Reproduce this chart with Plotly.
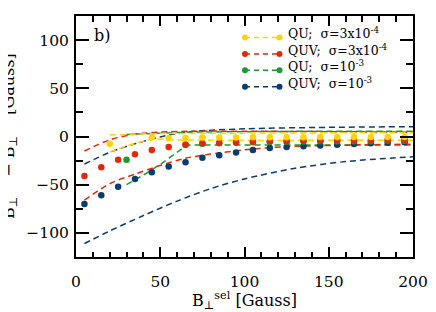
import plotly.graph_objects as go

# ---------------- data ----------------
x_dots = [5, 15, 25, 35, 45, 55, 65, 75, 85, 95, 105, 115, 125, 135, 145, 155, 165, 175, 185, 195]
quv_1e3_dots = [-70, -61, -52, -44, -37, -31, -26.8, -22, -19.5, -16.5, -14, -12, -11, -10, -9.3, -8.5, -7.8, -7.1, -6.6, -6]
quv_3e4_dots = [-41, -32, -24, -18.5, -14, -11, -8.5, -7, -6.5, -6, -5.5, -5, -5, -4.5, -4.5, -4, -4, -4, -3.5, -3.5]

qu_3e4_x = [20, 45, 55, 65, 75, 85, 95, 105, 115, 125, 135, 145, 155, 165, 175, 185, 195]
qu_3e4_dots = [-7.6, -1, -1.8, -1.5, -1, -1, -1, -0.8, -0.8, -0.7, -0.7, -0.6, -0.6, -0.5, -0.5, -0.5, -0.5]

qu_1e3_x = [30, 65, 75, 85, 95, 105, 115, 125, 135, 145, 155, 165, 175, 185, 195]
qu_1e3_dots = [-24, -8.5, -7.5, -7, -6.5, -6, -5.8, -5.5, -5.3, -5, -5, -4.8, -4.8, -4.5, -4.5]

# dashed envelopes
quv_1e3_up_x = [5, 20, 35, 50, 65, 100, 150, 200]
quv_1e3_up_y = [-28.5, -16.5, -7.5, -0.5, 4.5, 8, 9.5, 10.2]
quv_1e3_lo_x = [5, 20, 40, 60, 80, 100, 130, 160, 200]
quv_1e3_lo_y = [-111, -98, -82, -67, -54, -44, -33, -26, -21]

quv_3e4_up_x = [5, 20, 35, 50, 70, 100, 150, 200]
quv_3e4_up_y = [-15, -3.5, 2.5, 4.5, 5.5, 5.5, 5, 4.5]
quv_3e4_lo_x = [5, 20, 35, 50, 65, 85, 105, 125, 145, 175, 200]
quv_3e4_lo_y = [-66, -49, -39, -30, -22.5, -17, -13, -10.5, -9.5, -8.5, -8]

qu_1e3_up_x = [30, 50, 70, 100, 150, 200]
qu_1e3_up_y = [2, 3.5, 4.5, 5, 5.5, 5.5]
qu_1e3_lo_x = [30, 40, 50, 60, 66, 80, 120, 160, 200]
qu_1e3_lo_y = [-50, -40, -29, -16, -8.7, -8.7, -8.7, -8.7, -8.7]

qu_3e4_up_x = [20, 35, 50, 100, 150, 200]
qu_3e4_up_y = [1.5, 2.5, 3, 3.5, 3.8, 4]
qu_3e4_lo_x = [20, 30, 45, 60, 100, 150, 200]
qu_3e4_lo_y = [-16, -10, -3, -3.5, -4, -4, -4]

labels = ["QU;  σ=3x10<sup>-4</sup>", "QUV;  σ=3x10<sup>-4</sup>",
          "QU;  σ=10<sup>-3</sup>", "QUV;  σ=10<sup>-3</sup>"]

YELLOW = "#FFD400"
RED = "#DE2A0C"
GREEN = "#1A9B2D"
BLUE = "#0B3C6C"

FONT = "DejaVu Serif"

# ---------------- figure ----------------
# page has an 8px body margin, so the figure is drawn 8px in from the top-left
OFF = 8
W, H = 436 - OFF, 312 - OFF
PLOT_L, PLOT_R, PLOT_T, PLOT_B = 76, 413, 16, 257   # page pixels of the plot area
L, T = PLOT_L - OFF, PLOT_T - OFF
R, B = 436 - PLOT_R, 312 - PLOT_B
PW, PH = PLOT_R - PLOT_L, PLOT_B - PLOT_T

fig = go.Figure()

def add_env(xs, ys, color, name, shape="spline"):
    fig.add_trace(go.Scatter(x=xs, y=ys, mode="lines", name=name, showlegend=False,
                             line=dict(color=color, width=1.5, dash="6px,4px", shape=shape,
                                       smoothing=0.8 if shape == "spline" else None),
                             hoverinfo="skip"))

def add_dots(xs, ys, color, name):
    fig.add_trace(go.Scatter(x=xs, y=ys, mode="markers", name=name, showlegend=False,
                             marker=dict(color=color, size=6.5, line=dict(width=0))))

# blue (bottom), green, red, yellow (top)
add_env(quv_1e3_up_x, quv_1e3_up_y, BLUE, "QUV 1e-3 upper")
add_env(quv_1e3_lo_x, quv_1e3_lo_y, BLUE, "QUV 1e-3 lower")
add_env(qu_1e3_up_x, qu_1e3_up_y, GREEN, "QU 1e-3 upper")
add_env(qu_1e3_lo_x, qu_1e3_lo_y, GREEN, "QU 1e-3 lower", shape="linear")
add_env(quv_3e4_up_x, quv_3e4_up_y, RED, "QUV 3e-4 upper")
add_env(quv_3e4_lo_x, quv_3e4_lo_y, RED, "QUV 3e-4 lower")
add_env(qu_3e4_up_x, qu_3e4_up_y, YELLOW, "QU 3e-4 upper")
add_env(qu_3e4_lo_x, qu_3e4_lo_y, YELLOW, "QU 3e-4 lower")

add_dots(x_dots, quv_1e3_dots, BLUE, "QUV; σ=1e-3")
add_dots(qu_1e3_x, qu_1e3_dots, GREEN, "QU; σ=1e-3")
add_dots(x_dots, quv_3e4_dots, RED, "QUV; σ=3e-4")
add_dots(qu_3e4_x, qu_3e4_dots, YELLOW, "QU; σ=3e-4")

def px2x(px):
    return (px - PLOT_L) / PW

def py2y(py):
    return (PLOT_B - py) / PH

# custom legend: dot - dashes - dot
shapes = []
annotations = []
leg_colors = [YELLOW, RED, GREEN, BLUE]
leg_rows = [37.5, 54, 70.3, 86.7]
for lab, col, ry in zip(labels, leg_colors, leg_rows):
    shapes.append(dict(type="line", xref="paper", yref="paper",
                       x0=px2x(245), x1=px2x(279.5), y0=py2y(ry), y1=py2y(ry),
                       line=dict(color=col, width=1.5, dash="5px,4px")))
    for cx in (245, 279.5):
        shapes.append(dict(type="circle", xref="paper", yref="paper",
                           xsizemode="pixel", ysizemode="pixel",
                           xanchor=px2x(cx), yanchor=py2y(ry),
                           x0=-3, x1=3, y0=-3, y1=3,
                           fillcolor=col, line=dict(width=0)))
    annotations.append(dict(text=lab, xref="paper", yref="paper",
                            x=px2x(286), y=py2y(ry - 4), xanchor="left", yanchor="middle",
                            showarrow=False, font=dict(family=FONT, size=12.5, color="black")))

annotations.append(dict(text="b)", xref="paper", yref="paper", x=px2x(92), y=py2y(35),
                        xanchor="left", yanchor="middle", showarrow=False,
                        font=dict(family=FONT, size=16, color="black")))

annotations.append(dict(text="B<sub>⊥</sub><sup>inf</sup> − B<sub>⊥</sub><sup>sel</sup> [Gauss]",
                        xref="paper", yref="paper", x=px2x(8), y=py2y(136),
                        xanchor="center", yanchor="middle", textangle=-90, showarrow=False,
                        font=dict(family=FONT, size=16, color="black")))

axis_common = dict(showline=True, linewidth=2, linecolor="black", mirror="ticks",
                   ticks="inside", tickcolor="black", tickwidth=1.5,
                   showgrid=False, zeroline=False,
                   tickfont=dict(family=FONT, size=15.5, color="black"))

fig.update_layout(
    width=W, height=H,
    margin=dict(l=L, r=R, t=T, b=B, autoexpand=False),
    paper_bgcolor="white", plot_bgcolor="white",
    showlegend=False,
    shapes=shapes, annotations=annotations,
    xaxis=dict(range=[0, 200], tickmode="array", tickvals=[0, 50, 100, 150, 200], ticklen=10,
               ticklabelstandoff=9,
               minor=dict(ticks="inside", dtick=10, tick0=0, ticklen=5.5, tickcolor="black", tickwidth=1.5, showgrid=False),
               title=dict(text="B<sub>⊥</sub><sup>sel</sup> [Gauss]", font=dict(family=FONT, size=16, color="black"), standoff=6),
               **axis_common),
    yaxis=dict(range=[-125, 125], tickmode="array", tickvals=[-100, -50, 0, 50, 100], ticklen=13,
               ticktext=["−100", "−50", "0", "50", "100"], ticklabelstandoff=2,
               minor=dict(ticks="inside", dtick=25, tick0=0, ticklen=7, tickcolor="black", tickwidth=1.5, showgrid=False),
               **axis_common),
)

fig.write_html("out.html")
